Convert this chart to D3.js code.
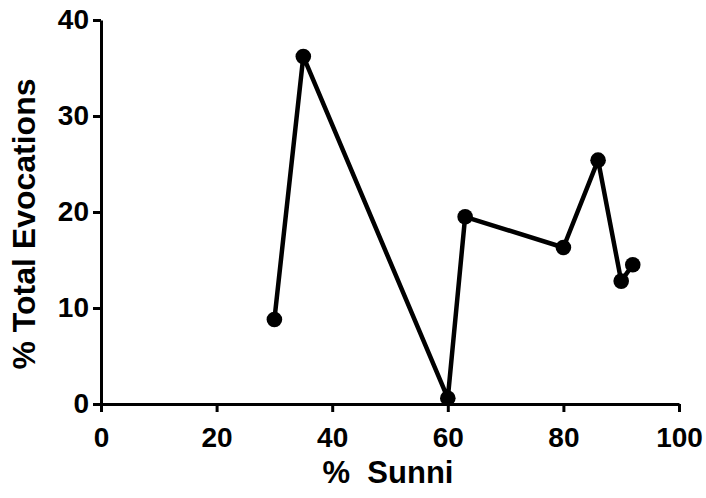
<!DOCTYPE html>
<html>
<head>
<meta charset="utf-8">
<script src="https://cdn.jsdelivr.net/npm/d3@7"></script>
<style>
  html, body { margin: 0; padding: 0; background: #fff; }
  svg { display: block; }
  text { font-family: "Liberation Sans", Arial, Helvetica, sans-serif; font-weight: bold; fill: #000; }
</style>
</head>
<body>
<svg id="chart" width="706" height="498"></svg>
<script>
const sunni = [30, 35, 60, 63, 80, 86, 90, 92];
const evocations = [8.8, 36.2, 0.6, 19.5, 16.3, 25.4, 12.8, 14.5];
const xTicks = [0, 20, 40, 60, 80, 100];
const yTicks = [0, 10, 20, 30, 40];
const xTitle = "%\u00a0\u00a0Sunni";
const yTitle = "% Total Evocations";

const svg = d3.select("#chart");
const x = d3.scaleLinear().domain([0, 100]).range([101, 679]);
const y = d3.scaleLinear().domain([0, 40]).range([404, 20]);

const data = sunni.map((s, i) => ({ x: s, y: evocations[i] }));

const xAxis = svg.append("g")
  .attr("transform", `translate(0,${y(0)})`)
  .call(d3.axisBottom(x).tickValues(xTicks).tickSizeInner(8).tickSizeOuter(0).tickPadding(15));
const yAxis = svg.append("g")
  .attr("transform", `translate(${x(0)},0)`)
  .call(d3.axisLeft(y).tickValues(yTicks).tickSizeInner(8).tickSizeOuter(0).tickPadding(4));

[xAxis, yAxis].forEach(g => {
  g.select(".domain").attr("stroke", "#000").attr("stroke-width", 3);
  g.selectAll(".tick line").attr("stroke", "#000").attr("stroke-width", 3);
  g.selectAll(".tick text").style("font-size", "28px").attr("fill", "#000");
});

svg.append("path")
  .datum(data)
  .attr("fill", "none")
  .attr("stroke", "#000")
  .attr("stroke-width", 4.5)
  .attr("stroke-linejoin", "round")
  .attr("d", d3.line().x(d => x(d.x)).y(d => y(d.y)));

svg.append("g").selectAll("circle")
  .data(data)
  .join("circle")
  .attr("cx", d => x(d.x))
  .attr("cy", d => y(d.y))
  .attr("r", 7.8)
  .attr("fill", "#000");

svg.append("text")
  .attr("x", 388)
  .attr("y", 483)
  .attr("text-anchor", "middle")
  .style("font-size", "31px")
  .text(xTitle);

svg.append("text")
  .attr("transform", `translate(35,224) rotate(-90)`)
  .attr("text-anchor", "middle")
  .style("font-size", "32px")
  .text(yTitle);
</script>
</body>
</html>
